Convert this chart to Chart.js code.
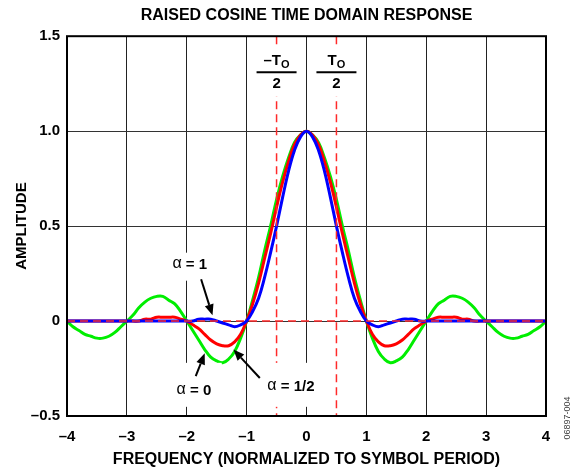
<!DOCTYPE html>
<html>
<head>
<meta charset="utf-8">
<script src="https://cdn.jsdelivr.net/npm/chart.js@4"></script>
<style>
  body { margin: 0; background: #fff; }
  #wrap { width: 575px; height: 469px; }
</style>
</head>
<body>
<div id="wrap"><canvas id="chart"></canvas></div>
<script>
// time axis, in symbol periods
const timeSteps = [-4.0,-3.9,-3.8,-3.7,-3.6,-3.5,-3.4,-3.3,-3.2,-3.1,-3.0,-2.9,-2.8,-2.7,-2.6,-2.5,-2.4,-2.3,-2.2,-2.1,
  -2.0,-1.9,-1.8,-1.7,-1.6,-1.5,-1.4,-1.3,-1.2,-1.1,-1.0,-0.9,-0.8,-0.7,-0.6,-0.5,-0.4,-0.3,-0.2,-0.1,
  0,0.1,0.2,0.3,0.4,0.5,0.6,0.7,0.8,0.9,1.0,1.1,1.2,1.3,1.4,1.5,1.6,1.7,1.8,1.9,
  2.0,2.1,2.2,2.3,2.4,2.5,2.6,2.7,2.8,2.9,3.0,3.1,3.2,3.3,3.4,3.5,3.6,3.7,3.8,3.9,4.0];

// alpha = 0 (green)
const alphaZero = [0,-0.03,-0.05,-0.07,-0.08,-0.09,-0.09,-0.08,-0.06,-0.03,0,0.03,0.07,0.10,0.12,0.13,0.13,0.11,0.09,0.05,
  0,-0.05,-0.10,-0.15,-0.19,-0.21,-0.22,-0.20,-0.16,-0.09,0,0.11,0.23,0.37,0.50,0.64,0.76,0.86,0.94,0.98,
  1.00,0.98,0.94,0.86,0.76,0.64,0.50,0.37,0.23,0.11,0,-0.09,-0.16,-0.20,-0.22,-0.21,-0.19,-0.15,-0.10,-0.05,
  0,0.05,0.09,0.11,0.13,0.13,0.12,0.10,0.07,0.03,0,-0.03,-0.06,-0.08,-0.09,-0.09,-0.08,-0.07,-0.05,-0.03,0];

// alpha = 1/2 (red)
const alphaHalf = [0,0,0,0,0,0,0,0,0,0,0,0,0,0.01,0.01,0.02,0.02,0.02,0.02,0.01,
  0,-0.02,-0.04,-0.07,-0.10,-0.12,-0.13,-0.13,-0.11,-0.07,0,0.09,0.20,0.33,0.46,0.60,0.73,0.84,0.93,0.98,
  1.00,0.98,0.93,0.84,0.73,0.60,0.46,0.33,0.20,0.09,0,-0.07,-0.11,-0.13,-0.13,-0.12,-0.10,-0.07,-0.04,-0.02,
  0,0.01,0.02,0.02,0.02,0.02,0.01,0.01,0,0,0,0,0,0,0,0,0,0,0,0,0];

// alpha = 1 (blue)
const alphaOne = [0,0,0,0,0,0,0,0,0,0,0,0,0,0,0,0,0,0,0,0,
  0,0,0.01,0.01,0.01,0,-0.01,-0.02,-0.03,-0.02,0,0.05,0.12,0.23,0.36,0.50,0.65,0.79,0.90,0.97,
  1.00,0.97,0.90,0.79,0.65,0.50,0.36,0.23,0.12,0.05,0,-0.02,-0.03,-0.02,-0.01,0,0.01,0.01,0.01,0,
  0,0,0,0,0,0,0,0,0,0,0,0,0,0,0,0,0,0,0,0,0];

const markerTimes = [-0.5, 0.5];
const FONT = '"Liberation Sans", Arial, sans-serif';

function points(values) {
  return timeSteps.map((t, i) => ({ x: t, y: values[i] }));
}

function minusLabel(v) {
  return v < 0 ? '\u2013' + Math.abs(v) : String(v);
}

function arrow(ctx, x1, y1, x2, y2) {
  const ang = Math.atan2(y2 - y1, x2 - x1);
  const len = 11, half = 4.5;
  const bx = x2 - len * Math.cos(ang), by = y2 - len * Math.sin(ang);
  ctx.beginPath();
  ctx.moveTo(x1, y1);
  ctx.lineTo(bx, by);
  ctx.stroke();
  ctx.beginPath();
  ctx.moveTo(x2, y2);
  ctx.lineTo(bx + half * Math.sin(ang), by - half * Math.cos(ang));
  ctx.lineTo(bx - half * Math.sin(ang), by + half * Math.cos(ang));
  ctx.closePath();
  ctx.fill();
}

function alphaText(ctx, cx, cy, rest) {
  ctx.font = '16px ' + FONT;
  const a = 'α';
  const wa = ctx.measureText(a).width;
  ctx.font = 'bold 15px ' + FONT;
  const wr = ctx.measureText(rest).width;
  let x = cx - (wa + wr) / 2;
  ctx.textAlign = 'left';
  ctx.textBaseline = 'middle';
  ctx.font = '16px ' + FONT;
  ctx.fillText(a, x, cy);
  ctx.font = 'bold 15px ' + FONT;
  ctx.fillText(rest, x + wa, cy + 1);
}

function fraction(ctx, cx, top, neg) {
  const main = neg ? '\u2013T' : 'T';
  ctx.font = 'bold 15px ' + FONT;
  const wm = ctx.measureText(main).width;
  ctx.font = 'bold 11px ' + FONT;
  const ws = ctx.measureText('O').width;
  let x = cx - (wm + ws) / 2;
  ctx.textAlign = 'left';
  ctx.textBaseline = 'middle';
  ctx.font = 'bold 15px ' + FONT;
  ctx.fillText(main, x, top + 15);
  ctx.font = 'bold 11px ' + FONT;
  ctx.fillText('O', x + wm, top + 19);
  ctx.lineWidth = 2;
  ctx.beginPath();
  ctx.moveTo(cx - 20, top + 26);
  ctx.lineTo(cx + 20, top + 26);
  ctx.stroke();
  ctx.textAlign = 'center';
  ctx.font = 'bold 15px ' + FONT;
  ctx.fillText('2', cx, top + 38);
}

const overlay = {
  id: 'overlay',
  afterDatasetsDraw(chart) {
    const { ctx, chartArea: a, scales: { x, y } } = chart;
    const px = v => x.getPixelForValue(v);
    const py = v => y.getPixelForValue(v);
    ctx.save();

    // red dashed markers
    ctx.strokeStyle = '#ff2a2a';
    ctx.lineWidth = 1.5;
    ctx.setLineDash([8, 5]);
    markerTimes.forEach(t => {
      ctx.beginPath();
      ctx.moveTo(px(t), a.top);
      ctx.lineTo(px(t), a.bottom);
      ctx.stroke();
    });
    ctx.beginPath();
    ctx.moveTo(a.left, py(0));
    ctx.lineTo(a.right, py(0));
    ctx.stroke();
    ctx.setLineDash([]);

    // white boxes behind labels
    ctx.fillStyle = '#fff';
    markerTimes.forEach(t => ctx.fillRect(px(t) - 22, a.top + 10, 44, 50));
    ctx.fillRect(px(-2) - 18, py(0.36), 42, 28);
    ctx.fillRect(px(-2) - 22, py(-0.22), 57, 44);
    ctx.fillRect(px(-0.5) - 21, py(-0.22), 75, 44);

    ctx.fillStyle = '#000';
    ctx.strokeStyle = '#000';
    fraction(ctx, px(-0.5), a.top + 10, true);
    fraction(ctx, px(0.5), a.top + 10, false);

    alphaText(ctx, px(-1.95), py(0.30), ' = 1');
    alphaText(ctx, px(-1.88), py(-0.36), ' = 0');
    alphaText(ctx, px(-0.26), py(-0.34), ' = 1/2');

    ctx.lineWidth = 2;
    arrow(ctx, px(-1.76), py(0.22), px(-1.57), py(0.03));
    arrow(ctx, px(-1.85), py(-0.29), px(-1.70), py(-0.17));
    arrow(ctx, px(-0.78), py(-0.30), px(-1.22), py(-0.15));

    ctx.restore();
  },
  afterDraw(chart) {
    const { ctx, chartArea: a } = chart;
    ctx.save();
    ctx.strokeStyle = '#000';
    ctx.lineWidth = 2;
    ctx.strokeRect(a.left, a.top, a.right - a.left, a.bottom - a.top);
    // figure id along the right edge
    ctx.translate(568, 418);
    ctx.rotate(-Math.PI / 2);
    ctx.fillStyle = '#444';
    ctx.font = '9px ' + FONT;
    ctx.textAlign = 'center';
    ctx.textBaseline = 'middle';
    ctx.fillText('06897-004', 0, 0);
    ctx.restore();
  }
};

const lineStyle = { borderWidth: 3, pointRadius: 0, tension: 0.4, fill: false };

new Chart(document.getElementById('chart'), {
  type: 'line',
  data: {
    datasets: [
      { label: 'α = 1', data: points(alphaOne), borderColor: '#0000ff', order: 1, ...lineStyle },
      { label: 'α = 1/2', data: points(alphaHalf), borderColor: '#ff0000', order: 2, ...lineStyle },
      { label: 'α = 0', data: points(alphaZero), borderColor: '#00ee00', order: 3, ...lineStyle }
    ]
  },
  options: {
    responsive: true,
    maintainAspectRatio: false,
    animation: false,
    layout: { padding: { left: 0, right: 29, top: 0, bottom: 0 } },
    plugins: {
      legend: { display: false },
      tooltip: { enabled: false },
      title: {
        display: true,
        fullSize: false,
        text: 'RAISED COSINE TIME DOMAIN RESPONSE',
        color: '#000',
        font: { family: FONT, size: 16, weight: 'bold' },
        padding: { top: 6, bottom: 11 }
      }
    },
    scales: {
      x: {
        type: 'linear',
        min: -4,
        max: 4,
        afterFit(scale) { scale.height = 53; },
        border: { display: false },
        grid: { color: '#222', lineWidth: 1, drawTicks: false },
        ticks: {
          stepSize: 1,
          color: '#000',
          padding: 12,
          font: { family: FONT, size: 15, weight: 'bold' },
          callback: v => minusLabel(v)
        },
        title: {
          display: true,
          text: 'FREQUENCY (NORMALIZED TO SYMBOL PERIOD)',
          color: '#000',
          font: { family: FONT, size: 16, weight: 'bold' },
          padding: { top: 0, bottom: 0 }
        }
      },
      y: {
        min: -0.5,
        max: 1.5,
        afterFit(scale) { scale.width = 67; },
        border: { display: false },
        grid: { color: '#333', lineWidth: 1, drawTicks: false },
        ticks: {
          stepSize: 0.5,
          color: '#000',
          padding: 7,
          font: { family: FONT, size: 15, weight: 'bold' },
          callback: v => v === 0 ? '0' : (v < 0 ? '\u2013' + Math.abs(v).toFixed(1) : v.toFixed(1))
        },
        title: {
          display: true,
          text: 'AMPLITUDE',
          color: '#000',
          font: { family: FONT, size: 15, weight: 'bold' },
          padding: { top: 13, bottom: 0 }
        }
      }
    }
  },
  plugins: [overlay]
});
</script>
</body>
</html>
